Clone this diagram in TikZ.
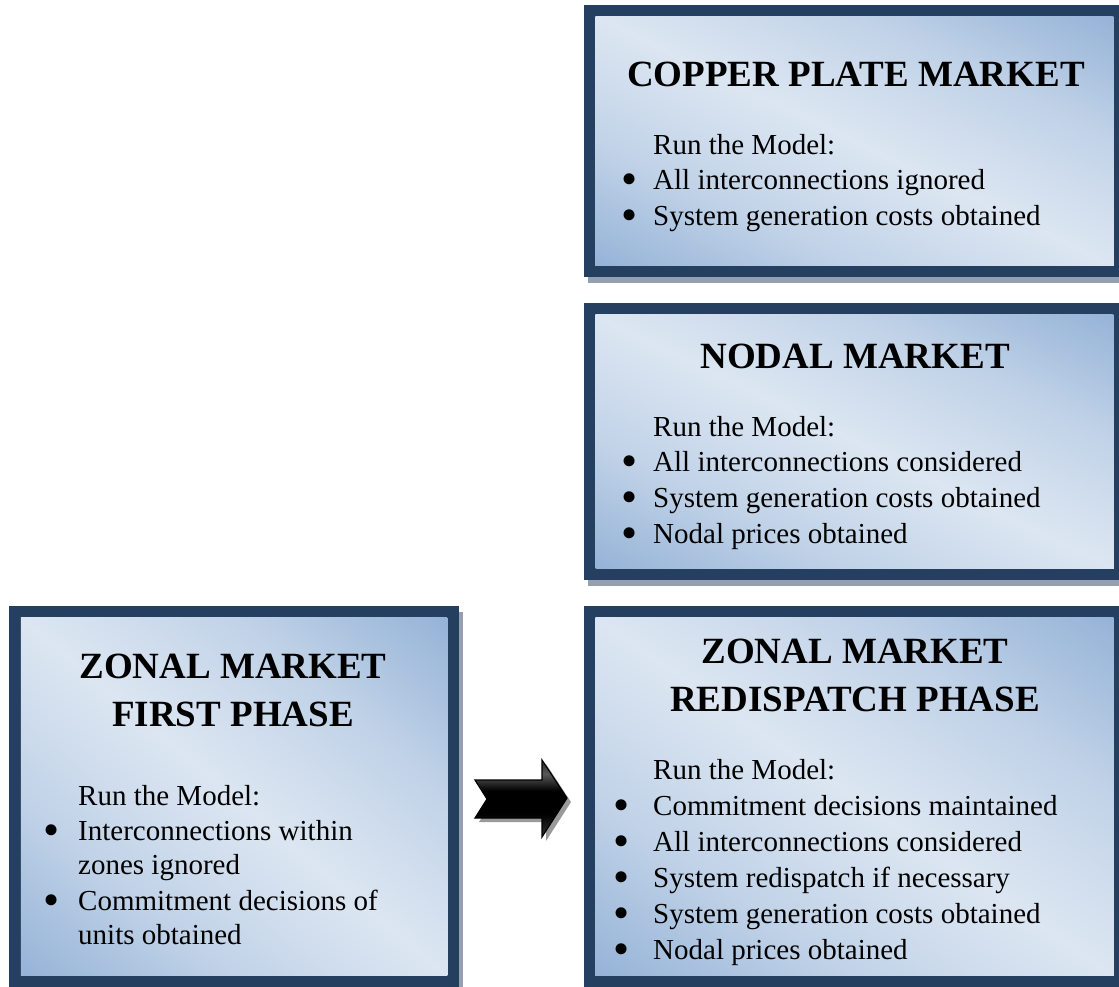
\documentclass[tikz,border=0pt]{standalone}
\usepackage{fontspec}
\setmainfont{Liberation Serif}
\usetikzlibrary{shadows}
\definecolor{bordc}{HTML}{243F60}
\definecolor{lightc}{HTML}{DCE6F2}
\definecolor{darkc}{HTML}{95B3D7}
\colorlet{midc}{lightc!62!darkc}
\definecolor{shadc}{HTML}{949FB0}
\definecolor{arrshad}{HTML}{9A9A9A}
\pgfdeclareverticalshading{boxshade}{100bp}{color(0bp)=(darkc); color(25bp)=(darkc); color(37.5bp)=(midc); color(50bp)=(lightc); color(62.5bp)=(midc); color(75bp)=(darkc); color(100bp)=(darkc)}
\pgfdeclareverticalshading{arrshade}{100bp}{color(0bp)=(black!80); color(25bp)=(black!80); color(40bp)=(black); color(55bp)=(black); color(66bp)=(black!65); color(75bp)=(black!85); color(100bp)=(black!85)}
% #1 Cx, #2 Cy (pixels, downwards), #3 W, #4 H of the inner area
\newcommand\mybxshade[4]{%
  \begin{scope}
    \clip (#1-#3/2, #2-#4/2) rectangle (#1+#3/2, #2+#4/2);
    \pgfmathsetmacro\mA{-((#3)/20)*((#3)/(#4))}%
    \pgfmathsetmacro\mB{(#3)/20}%
    \pgfmathsetmacro\mD{(#4)/20}%
    \pgfmathsetmacro\mY{-(#2)}%
    \begin{scope}[transform canvas={cm={\mA,\mB,\mB,\mD,(#1pt,\mY pt)}}]
      \shade[shading=boxshade] (-10pt,-10pt) rectangle (10pt,10pt);
    \end{scope}
  \end{scope}}
\newcommand\mybul{\smash{\textbullet}}
\begin{document}
\begin{tikzpicture}[x=1pt,y=-1pt,
  mbox/.style={rectangle, draw=bordc, line width=11.5pt, inner sep=0pt,
    drop shadow={shadow xshift=4pt, shadow yshift=-6pt, opacity=1, fill=shadc, draw=shadc, line width=11.5pt}},
  ttl/.style={anchor=base, inner sep=0pt, font=\bfseries\fontsize{37}{48}\selectfont},
  txt/.style={anchor=base west, inner sep=0pt, font=\fontsize{29}{35}\selectfont},
  bul/.style={anchor=base, inner sep=0pt, yshift=-5.5pt, font=\fontsize{46}{46}\selectfont}]
\useasboundingbox (0,0) rectangle (1119,986);
\fill[white] (0,0) rectangle (1119,986);

% boxes (border + shadow), then the gradient inside
\node[mbox, minimum width=530pt, minimum height=260.5pt] (copper) at (854.5,141.25) {};
\node[mbox, minimum width=530pt, minimum height=265pt] (nodal) at (854.5,441.5) {};
\node[mbox, minimum width=530pt, minimum height=369.5pt] (redisp) at (854.5,796.75) {};
\node[mbox, minimum width=438pt, minimum height=369.5pt] (first) at (234,796.75) {};
\mybxshade{854.5}{141.25}{518.5}{249}
\mybxshade{854.5}{441.5}{518.5}{253.5}
\mybxshade{854.5}{796.75}{518.5}{358}
\mybxshade{234}{796.75}{426.5}{358}

% copper plate
\node[ttl] (t1) at (856,86) {COPPER PLATE MARKET};
\node[txt] (c0) at (653,154) {Run the Model:};
\node[bul] (cb1) at (630,189) {\mybul};
\node[txt] (c1) at (653,189) {All interconnections ignored};
\node[bul] (cb2) at (630,225) {\mybul};
\node[txt] (c2) at (653,225) {System generation costs obtained};

% nodal
\node[ttl] (t2) at (855,368) {NODAL MARKET};
\node[txt] (n0) at (653,436) {Run the Model:};
\node[bul] (nb1) at (630,471) {\mybul};
\node[txt] (n1) at (653,471) {All interconnections considered};
\node[bul] (nb2) at (630,507) {\mybul};
\node[txt] (n2) at (653,507) {System generation costs obtained};
\node[bul] (nb3) at (630,543) {\mybul};
\node[txt] (n3) at (653,543) {Nodal prices obtained};

% redispatch
\node[ttl] (t3a) at (855,663) {ZONAL MARKET};
\node[ttl] (t3b) at (855,711) {REDISPATCH PHASE};
\node[txt] (r0) at (653,779) {Run the Model:};
\node[bul] (rb1) at (622,815) {\mybul};
\node[txt] (r1) at (653,815) {Commitment decisions maintained};
\node[bul] (rb2) at (622,851) {\mybul};
\node[txt] (r2) at (653,851) {All interconnections considered};
\node[bul] (rb3) at (622,887) {\mybul};
\node[txt] (r3) at (653,887) {System redispatch if necessary};
\node[bul] (rb4) at (622,923) {\mybul};
\node[txt] (r4) at (653,923) {System generation costs obtained};
\node[bul] (rb5) at (622,959) {\mybul};
\node[txt] (r5) at (653,959) {Nodal prices obtained};

% first phase
\node[ttl] (t4a) at (233,678) {ZONAL MARKET};
\node[ttl] (t4b) at (233,726) {FIRST PHASE};
\node[txt] (f0) at (78,805) {Run the Model:};
\node[bul] (fb1) at (52,840) {\mybul};
\node[txt] (f1) at (78,840) {Interconnections within};
\node[txt] (f2) at (78,874) {zones ignored};
\node[bul] (fb2) at (52,910) {\mybul};
\node[txt] (f3) at (78,910) {Commitment decisions of};
\node[txt] (f4) at (78,944) {units obtained};

% arrow
\fill[arrshad, shift={(4,4)}] (475,780) -- (542,780) -- (542,760) -- (567,798) -- (542,837) -- (542,818) -- (475,818) -- (487,799) -- cycle;
\draw[black, line width=1.2pt, shading=arrshade]
  (475,780) -- (542,780) -- (542,760) -- (567,798) -- (542,837) -- (542,818) -- (475,818) -- (487,799) -- cycle;
\end{tikzpicture}
\end{document}
